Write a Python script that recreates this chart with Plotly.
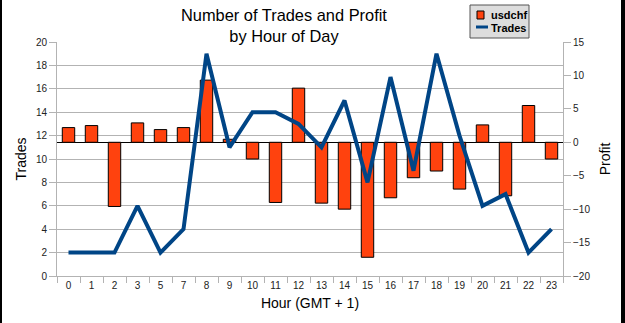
import plotly.graph_objects as go

hours = ["0", "1", "2", "3", "5", "7", "8", "9", "10", "11", "12", "13",
         "14", "15", "16", "17", "18", "19", "20", "21", "22", "23"]
profit = [2.2, 2.5, -9.6, 2.9, 1.9, 2.2, 9.3, 0.45, -2.5, -9.0, 8.1, -9.1,
          -10.0, -17.2, -8.3, -5.3, -4.3, -7.0, 2.6, -8.0, 5.5, -2.5]
trades = [2, 2, 2, 6, 2, 4, 19, 11, 14, 14, 13, 11,
          15, 8, 17, 9, 19, 12, 6, 7, 2, 4]
title_text = "Number of Trades and Profit<br>by Hour of Day"

FONT = "Liberation Sans, Arial, sans-serif"
BAR_COLOR = "#ff420e"
LINE_COLOR = "#004586"

fig = go.Figure()
fig.add_trace(go.Bar(
    x=hours, y=profit, name="usdchf", yaxis="y",
    marker=dict(color=BAR_COLOR, line=dict(color="#000000", width=1)),
))
fig.add_trace(go.Scatter(
    x=hours, y=trades, name="Trades", yaxis="y2", mode="lines",
    line=dict(color=LINE_COLOR, width=4),
))

L, R, T, B = 57, 62, 42, 47
W, H = 625, 323
pw = W - L - R
ph = H - T - B


def px(x):
    return (x - L) / pw


def py(y):
    return 1 - (y - T) / ph


shapes = [
    # outer black edges
    dict(type="rect", xref="paper", yref="paper",
         x0=px(0), x1=px(2), y0=py(H), y1=py(0),
         fillcolor="#000000", line=dict(width=0), layer="above"),
    dict(type="rect", xref="paper", yref="paper",
         x0=px(621), x1=px(W), y0=py(H), y1=py(0),
         fillcolor="#000000", line=dict(width=0), layer="above"),
    # legend box
    dict(type="rect", xref="paper", yref="paper",
         x0=px(470), x1=px(529), y0=py(38), y1=py(5),
         fillcolor="#dddddd", line=dict(color="#555555", width=1), layer="above"),
    dict(type="rect", xref="paper", yref="paper",
         x0=px(477), x1=px(484), y0=py(19), y1=py(11),
         fillcolor=BAR_COLOR, line=dict(color="#000000", width=1), layer="above"),
    dict(type="line", xref="paper", yref="paper",
         x0=px(476), x1=px(488), y0=py(27), y1=py(27),
         line=dict(color=LINE_COLOR, width=3), layer="above"),
]

annotations = [
    dict(text=title_text, xref="paper", yref="paper", x=px(284), y=py(4),
         xanchor="center", yanchor="top", showarrow=False, align="center",
         font=dict(size=16.4, color="#000000")),
    dict(text="<b>usdchf</b>", xref="paper", yref="paper", x=px(489), y=py(15),
         xanchor="left", yanchor="middle", showarrow=False,
         font=dict(size=11, color="#000000")),
    dict(text="<b>Trades</b>", xref="paper", yref="paper", x=px(489), y=py(27.5),
         xanchor="left", yanchor="middle", showarrow=False,
         font=dict(size=11, color="#000000")),
]

fig.update_layout(
    width=W, height=H,
    margin=dict(l=L, r=R, t=T, b=B),
    paper_bgcolor="white", plot_bgcolor="white",
    font=dict(family=FONT, color="#000000"),
    bargap=0.46,
    showlegend=False,
    xaxis=dict(
        type="category", showgrid=False, showline=True, linecolor="#b3b3b3",
        ticks="outside", tickson="boundaries", ticklen=6, tickcolor="#b3b3b3",
        tickfont=dict(size=10, color="#222222"),
        title=dict(text="Hour (GMT + 1)", font=dict(size=14), standoff=8),
    ),
    yaxis=dict(
        side="right", range=[-20, 15], dtick=5, showgrid=False,
        zeroline=True, zerolinecolor="#000000", zerolinewidth=1,
        showline=True, linecolor="#b3b3b3", ticks="outside", ticklen=7,
        tickcolor="#b3b3b3", tickfont=dict(size=10, color="#222222"),
        title=dict(text="Profit", font=dict(size=14), standoff=10),
    ),
    yaxis2=dict(
        overlaying="y", side="left", range=[0, 20], dtick=2,
        showgrid=True, gridcolor="#b3b3b3", gridwidth=1, zeroline=False,
        showline=True, linecolor="#b3b3b3", ticks="outside", ticklen=7,
        tickcolor="#b3b3b3", tickfont=dict(size=10, color="#222222"),
        title=dict(text="Trades", font=dict(size=14), standoff=5),
    ),
    shapes=shapes,
    annotations=annotations,
)

fig.write_html("out.html")
